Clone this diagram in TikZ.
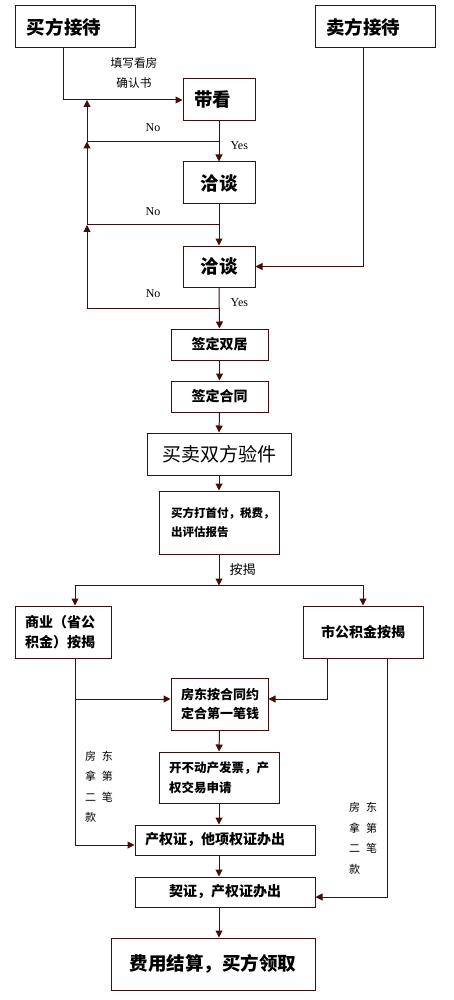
\documentclass[tikz,border=0pt]{standalone}
\usepackage{fontspec}
\setmainfont{Liberation Serif}
\newfontfamily\cjk{Noto Sans CJK SC}
\usetikzlibrary{positioning, arrows.meta, calc}
\definecolor{wire}{RGB}{70,12,12}

\begin{document}
\begin{tikzpicture}[
  x=1pt, y=-1pt,
  box/.style={draw=wire, line width=1pt, inner sep=0pt, align=center,
              font=\cjk\bfseries},
  lbox/.style={box, align=left},
  flow/.style={-{Triangle[length=7pt,width=7pt]}, line width=1pt, wire},
  note/.style={inner sep=0pt, align=center, text=black},
  yn/.style={inner sep=0pt, text=black, font=\fontsize{12}{12}\selectfont},
]
  \useasboundingbox (0,0) rectangle (453,1000);

  % --- reception of both parties ---
  \node[lbox, inner xsep=12pt, text width=96pt, minimum height=42pt,
        font=\cjk\bfseries\fontsize{18.5}{22}\selectfont] (buyer) at (75,27) {买方接待};
  \node[lbox, inner xsep=11pt, text width=98pt, minimum height=42pt,
        font=\cjk\bfseries\fontsize{18.5}{22}\selectfont] (seller) at (375,27) {卖方接待};

  % --- viewing and negotiation ---
  \node[lbox, inner xsep=11pt, text width=50pt, minimum height=42pt,
        font=\cjk\bfseries\fontsize{18.5}{22}\selectfont] (view) at (219,100) {带看};
  \node[box, minimum width=72pt, minimum height=42pt,
        font=\cjk\bfseries\fontsize{18.5}{22}\selectfont] (talkA) at (219,183) {洽谈};
  \node[box, minimum width=72pt, minimum height=41pt,
        font=\cjk\bfseries\fontsize{18.5}{22}\selectfont] (talkB) at (219,266.5) {洽谈};

  % --- signing ---
  \node[box, minimum width=97pt, minimum height=31pt,
        font=\cjk\bfseries\fontsize{14}{16}\selectfont] (signA) at (219.5,344.5) {签定双居};
  \node[box, minimum width=97pt, minimum height=31pt,
        font=\cjk\bfseries\fontsize{14}{16}\selectfont] (signB) at (219.5,396.5) {签定合同};
  \node[box, minimum width=144pt, minimum height=42pt,
        font=\cjk\fontsize{19}{22}\selectfont] (check) at (219,454) {买卖双方验件};
  \node[lbox, inner xsep=12pt, text width=96pt, minimum height=63pt,
        font=\cjk\bfseries\fontsize{11.5}{19.5}\selectfont] (pay) at (219,522.5)
    {买方打首付，税费，\\出评估报告};

  % --- loans ---
  \node[lbox, inner xsep=10pt, text width=76pt, minimum height=52pt,
        font=\cjk\bfseries\fontsize{14}{20}\selectfont] (loanA) at (63,632)
    {商业（省公\\积金）按揭};
  \node[box, minimum width=120pt, minimum height=52pt,
        font=\cjk\bfseries\fontsize{14}{16}\selectfont] (loanB) at (363,632) {市公积金按揭};

  % --- payments and certificates ---
  \node[lbox, inner xsep=10pt, text width=77pt, minimum height=52pt,
        font=\cjk\bfseries\fontsize{13}{19.5}\selectfont] (first) at (219.5,704)
    {房东按合同约\\定合第一笔钱};
  \node[lbox, inner xsep=10pt, text width=100pt, minimum height=51pt,
        font=\cjk\bfseries\fontsize{12.5}{19.5}\selectfont] (invoice) at (219,777.5)
    {开不动产发票，产\\权交易申请};
  \node[lbox, inner xsep=10pt, text width=160pt, minimum height=30pt,
        font=\cjk\bfseries\fontsize{14}{16}\selectfont] (cert) at (225,840) {产权证，他项权证办出};
  \node[box, minimum width=180pt, minimum height=30pt,
        font=\cjk\bfseries\fontsize{14}{16}\selectfont] (deed) at (225,892) {契证，产权证办出};
  \node[box, minimum width=204pt, minimum height=52pt,
        font=\cjk\bfseries\fontsize{18.5}{22}\selectfont] (final) at (213,964) {费用结算，买方领取};

  % --- helper points ---
  \coordinate (bx) at (87,0);
  \coordinate (n1) at ($(view.south)!0.5!(talkA.north)$);
  \coordinate (n2) at ($(talkA.south)!0.5!(talkB.north)$);
  \coordinate (n3) at ($(talkB.south)!0.5!(signA.north)$);
  \coordinate (split) at ($(pay.south)+(0,31)$);

  % --- upper flow ---
  \draw[flow] ([xshift=-12pt]buyer.south) |- (view.west);
  \node[note, font=\cjk\fontsize{11.7}{20}\selectfont] (form) at (134,73) {填写看房\\确认书};
  \draw[flow] ([xshift=-12pt]seller.south) |- (talkB.east);

  \draw[flow] (view.south) -- node[yn, pos=0.6, right=11pt] {Yes} (talkA.north);
  \draw[flow] (talkA.south) -- (talkB.north);
  \draw[flow] (talkB.south) -- node[yn, pos=0.36, right=11pt] {Yes} (signA.north);

  % --- loops back ---
  \draw[flow] (n1) -- node[yn, above=9pt] {No} (n1 -| bx) -- (bx |- view.west);
  \draw[flow] (n2) -- node[yn, above=9pt] {No} (n2 -| bx) -- (n1 -| bx);
  \draw[flow] (n3) -- node[yn, above=10pt] {No} (n3 -| bx) -- (n2 -| bx);

  % --- middle flow ---
  \draw[flow] (signA.south) -- (signB.north);
  \draw[flow] (signB.south) -- (check.north);
  \draw[flow] (check.south) -- (pay.north);
  \draw[flow] (pay.south) -- node[note, right=10pt, font=\cjk\fontsize{13}{15}\selectfont] {按揭} (split);
  \draw[flow] (split) -| ([xshift=12pt]loanA.north);
  \draw[flow] (split) -| (loanB.north);

  % --- lower flow ---
  \draw[flow] ([xshift=12pt]loanA.south) |- ([yshift=-5pt]cert.west);
  \draw[flow] ([xshift=12pt]loanA.south |- first.west) ++(0,-5) -- ([yshift=5pt]first.west);
  \draw[flow] ([xshift=-36pt]loanB.south) |- ([yshift=5pt]first.east);
  \draw[flow] ([xshift=24pt]loanB.south) |- ([yshift=-5pt]deed.east);

  \draw[flow] (first.south) -- (invoice.north);
  \draw[flow] (invoice.south) -- (invoice.south |- cert.north);
  \draw[flow] (invoice.south |- cert.south) -- (invoice.south |- deed.north);
  \draw[flow] (invoice.south |- deed.south) -- (invoice.south |- final.north);

  % --- second payment notes ---
  \node[note, align=left, font=\cjk\fontsize{11}{20.5}\selectfont] (restA) at (99,787)
    {房\hspace{6pt}东\\拿\hspace{6pt}第\\二\hspace{6pt}笔\\款};
  \node[note, align=left, font=\cjk\fontsize{11}{20.5}\selectfont] (restB) at (363,838.5)
    {房\hspace{6pt}东\\拿\hspace{6pt}第\\二\hspace{6pt}笔\\款};
\end{tikzpicture}
\end{document}
